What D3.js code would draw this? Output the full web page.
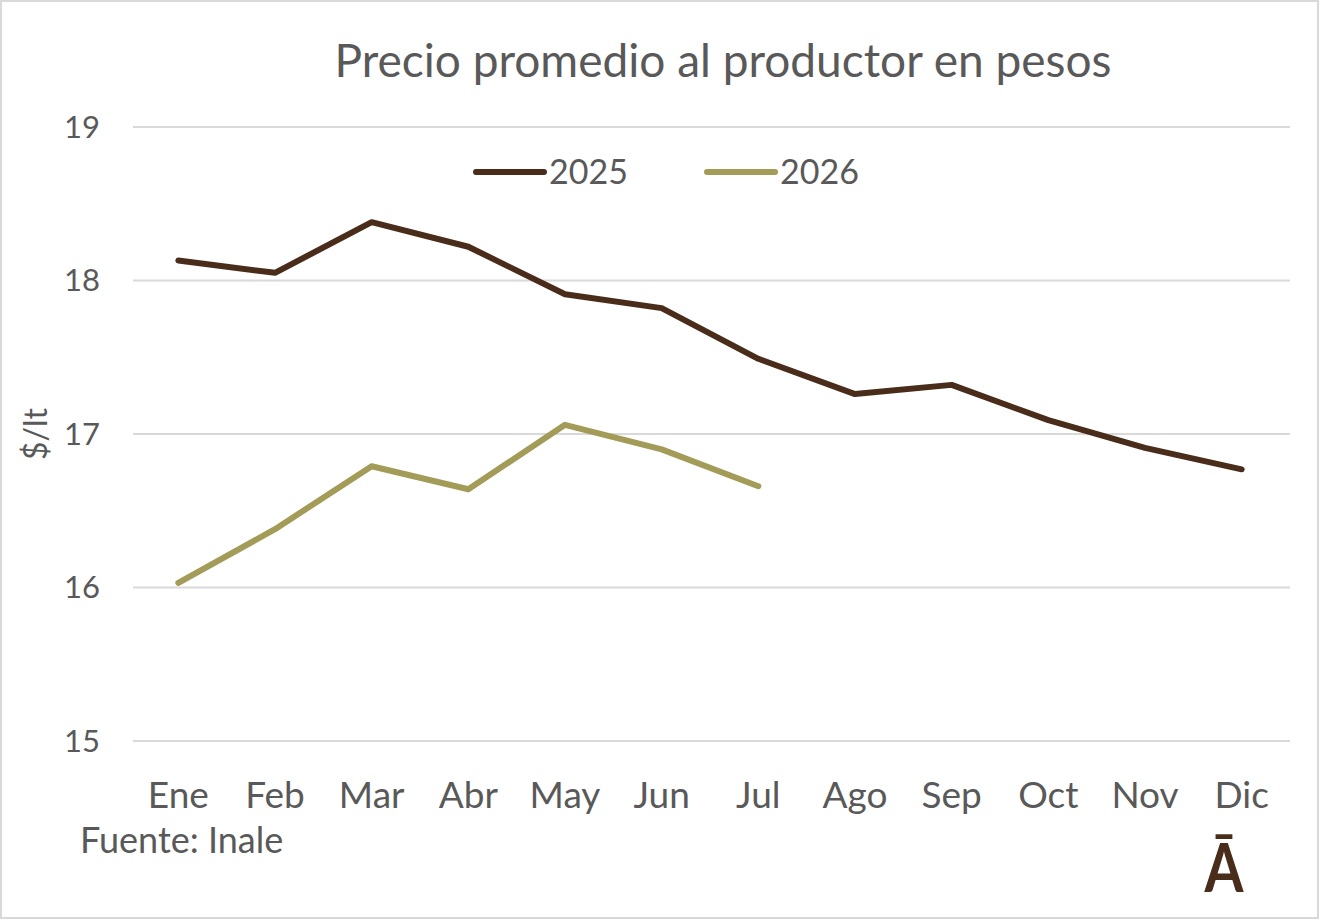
<!DOCTYPE html>
<html>
<head>
<meta charset="utf-8">
<script src="https://cdn.jsdelivr.net/npm/d3@7"></script>
<style>
  body { margin: 0; background: #fff; }
  svg text { font-family: Lato, "Open Sans", sans-serif; fill: #595959; }
</style>
</head>
<body>
<div id="chart"></div>
<script>
// data
const months = ["Ene", "Feb", "Mar", "Abr", "May", "Jun", "Jul", "Ago", "Sep", "Oct", "Nov", "Dic"];
const values2025 = [18.13, 18.05, 18.38, 18.22, 17.91, 17.82, 17.49, 17.26, 17.32, 17.09, 16.91, 16.77];
const values2026 = [16.03, 16.38, 16.79, 16.64, 17.06, 16.90, 16.66];
const yTicks = [15, 16, 17, 18, 19];

const W = 1320, H = 920;
const margin = {left: 130, right: 30, top: 127, bottom: 179};

const svg = d3.select("#chart").append("svg")
  .attr("width", W)
  .attr("height", H);

// outer border
svg.append("rect")
  .attr("x", 1).attr("y", 1)
  .attr("width", W - 3).attr("height", H - 3)
  .attr("fill", "#fff")
  .attr("stroke", "#d9d9d9")
  .attr("stroke-width", 2);

const x = d3.scaleBand()
  .domain(months)
  .range([margin.left, W - margin.right]);

const y = d3.scaleLinear()
  .domain([15, 19])
  .range([H - margin.bottom, margin.top]);

// gridlines
svg.append("g")
  .selectAll("line")
  .data(yTicks)
  .join("line")
  .attr("x1", margin.left + 3)
  .attr("x2", W - margin.right)
  .attr("y1", d => y(d))
  .attr("y2", d => y(d))
  .attr("stroke", "#d9d9d9")
  .attr("stroke-width", 2);

// y tick labels
svg.append("g")
  .selectAll("text")
  .data(yTicks)
  .join("text")
  .attr("x", 100)
  .attr("y", d => y(d))
  .attr("dy", "0.35em")
  .attr("text-anchor", "end")
  .style("font-size", "31px")
  .text(d => d);

// x labels
svg.append("g")
  .selectAll("text")
  .data(months)
  .join("text")
  .attr("x", d => x(d) + x.bandwidth() / 2)
  .attr("y", 808)
  .attr("text-anchor", "middle")
  .style("font-size", "37px")
  .text(d => d);

// y axis title
svg.append("text")
  .attr("transform", "translate(47," + y(17.0) + ") rotate(-90)")
  .attr("text-anchor", "middle")
  .style("font-size", "32px")
  .text("$/lt");

// title
svg.append("text")
  .attr("x", 723)
  .attr("y", 77)
  .attr("text-anchor", "middle")
  .style("font-size", "46px")
  .text("Precio promedio al productor en pesos");

const line = d3.line()
  .x((d, i) => x(months[i]) + x.bandwidth() / 2)
  .y(d => y(d));

const series = [
  {name: "2025", values: values2025, color: "#4a2c1a"},
  {name: "2026", values: values2026, color: "#a39b58"}
];

svg.append("g")
  .selectAll("path")
  .data(series)
  .join("path")
  .attr("d", d => line(d.values))
  .attr("fill", "none")
  .attr("stroke", d => d.color)
  .attr("stroke-width", 6)
  .attr("stroke-linejoin", "round")
  .attr("stroke-linecap", "round");

// legend
const legend = svg.append("g")
  .selectAll("g")
  .data(series)
  .join("g")
  .attr("transform", (d, i) => "translate(" + (476 + i * 231) + ",172)");

legend.append("line")
  .attr("x1", 0).attr("x2", 68)
  .attr("stroke", d => d.color)
  .attr("stroke-width", 6)
  .attr("stroke-linecap", "round");

legend.append("text")
  .attr("x", 73)
  .attr("dy", "0.35em")
  .style("font-size", "34px")
  .text(d => d.name);

// source
svg.append("text")
  .attr("x", 80)
  .attr("y", 853)
  .style("font-size", "36px")
  .text("Fuente: Inale");

// logo
svg.append("text")
  .attr("transform", "translate(1224,892) scale(0.85,1)")
  .attr("text-anchor", "middle")
  .style("font-size", "66px")
  .style("font-weight", "bold")
  .style("fill", "#4a2c1a")
  .text("Ā");
</script>
</body>
</html>
